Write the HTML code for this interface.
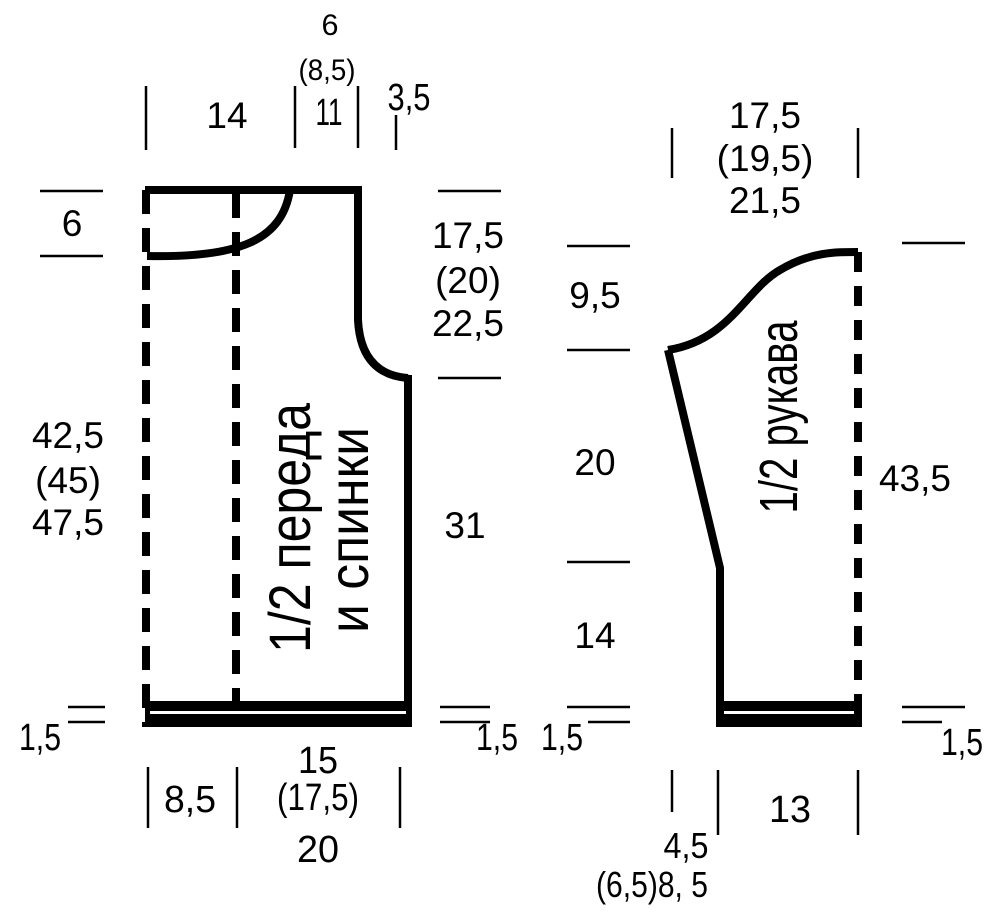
<!DOCTYPE html>
<html><head><meta charset="utf-8"><style>html,body{margin:0;padding:0;background:#fff}svg{display:block}</style></head>
<body>
<svg width="1000" height="918" viewBox="0 0 1000 918" xmlns="http://www.w3.org/2000/svg" font-family="'Liberation Sans',sans-serif" font-size="37" fill="#000" text-anchor="middle">
<g stroke="#000" stroke-width="2.5" fill="none">
<line x1="146" y1="86" x2="146" y2="150"/><line x1="295" y1="86" x2="295" y2="148"/><line x1="358" y1="86" x2="358" y2="148"/><line x1="396" y1="115" x2="396" y2="150"/>
<line x1="40" y1="191" x2="103" y2="191"/><line x1="40" y1="256" x2="103" y2="256"/>
<line x1="438" y1="191" x2="501" y2="191"/><line x1="438" y1="378" x2="501" y2="378"/>
<line x1="68" y1="707" x2="105" y2="707"/><line x1="68" y1="722" x2="105" y2="722"/>
<line x1="440" y1="707" x2="490" y2="707"/><line x1="440" y1="722" x2="490" y2="722"/>
<line x1="148" y1="767" x2="148" y2="828"/><line x1="237" y1="767" x2="237" y2="828"/><line x1="400" y1="767" x2="400" y2="828"/>
<line x1="672" y1="128" x2="672" y2="178"/><line x1="858" y1="128" x2="858" y2="178"/>
<line x1="567" y1="246" x2="630" y2="246"/><line x1="567" y1="350" x2="630" y2="350"/><line x1="567" y1="562" x2="630" y2="562"/>
<line x1="567" y1="707" x2="630" y2="707"/><line x1="588" y1="722" x2="630" y2="722"/>
<line x1="902" y1="243" x2="965" y2="243"/><line x1="902" y1="707" x2="965" y2="707"/><line x1="902" y1="722" x2="942" y2="722"/>
<line x1="672" y1="770" x2="672" y2="812"/><line x1="718" y1="770" x2="718" y2="835"/><line x1="858" y1="770" x2="858" y2="835"/>
</g>
<g stroke="#000" fill="none" stroke-width="8">
<path d="M145 190 H358 V320 C360 360 380 376 408 378"/>
<line x1="408" y1="375" x2="408" y2="727"/>
<path d="M147 256 C240 258 282 240 290 190"/>
<line x1="146" y1="190" x2="146" y2="727" stroke-dasharray="24,14"/>
<line x1="236" y1="194" x2="236" y2="727" stroke-dasharray="24,14"/>
<path d="M668 350 C730 340 745 290 780 270 C810 252 835 252 858 252"/>
<path d="M668 350 L720 568 V727"/>
<line x1="858" y1="252" x2="858" y2="727" stroke-dasharray="20,14"/>
</g>
<rect x="145" y="701" width="267" height="26"/>
<rect x="150" y="711" width="256" height="3" fill="#fff"/>
<rect x="716" y="701" width="146" height="26"/>
<rect x="724" y="711" width="130" height="3" fill="#fff"/>
<text x="227" y="128">14</text>
<text x="330" y="35" font-size="30" textLength="17" lengthAdjust="spacingAndGlyphs">6</text>
<text x="327" y="80" font-size="30" textLength="57" lengthAdjust="spacingAndGlyphs">(8,5)</text>
<text x="329" y="125" font-size="38" textLength="27" lengthAdjust="spacingAndGlyphs">11</text>
<text x="409" y="110" font-size="38" textLength="43" lengthAdjust="spacingAndGlyphs">3,5</text>
<text x="72" y="236">6</text>
<text x="468" y="248">17,5</text><text x="468" y="293">(20)</text><text x="468" y="336">22,5</text>
<text x="68" y="448">42,5</text><text x="68" y="493">(45)</text><text x="68" y="535">47,5</text>
<text x="465" y="538">31</text>
<text x="40" y="750" font-size="38" textLength="42" lengthAdjust="spacingAndGlyphs">1,5</text>
<text x="497" y="750" font-size="38" textLength="42" lengthAdjust="spacingAndGlyphs">1,5</text>
<text x="190" y="812" font-size="38" textLength="52" lengthAdjust="spacingAndGlyphs">8,5</text>
<text x="318" y="773" font-size="38" textLength="40" lengthAdjust="spacingAndGlyphs">15</text>
<text x="318" y="810" font-size="38" textLength="82" lengthAdjust="spacingAndGlyphs">(17,5)</text>
<text x="318" y="862" font-size="38" textLength="42" lengthAdjust="spacingAndGlyphs">20</text>
<text x="765" y="128">17,5</text><text x="765" y="171">(19,5)</text><text x="765" y="213">21,5</text>
<text x="595" y="308">9,5</text><text x="595" y="475">20</text><text x="595" y="648">14</text>
<text x="915" y="491">43,5</text>
<text x="562" y="750" font-size="38" textLength="42" lengthAdjust="spacingAndGlyphs">1,5</text>
<text x="962" y="755" font-size="38" textLength="42" lengthAdjust="spacingAndGlyphs">1,5</text>
<text x="790" y="822" font-size="38" textLength="42" lengthAdjust="spacingAndGlyphs">13</text>
<text x="686" y="858" font-size="36" textLength="45" lengthAdjust="spacingAndGlyphs">4,5</text>
<text x="652" y="897" font-size="36" textLength="112" lengthAdjust="spacingAndGlyphs">(6,5)8, 5</text>
<text transform="translate(310 528) rotate(-90)" font-size="58" textLength="250" lengthAdjust="spacingAndGlyphs">1/2 переда</text>
<text transform="translate(368 530) rotate(-90)" font-size="56" textLength="206" lengthAdjust="spacingAndGlyphs">и спинки</text>
<text transform="translate(797 417) rotate(-90)" font-size="54" textLength="193" lengthAdjust="spacingAndGlyphs">1/2 рукава</text>
</svg>
</body></html>
